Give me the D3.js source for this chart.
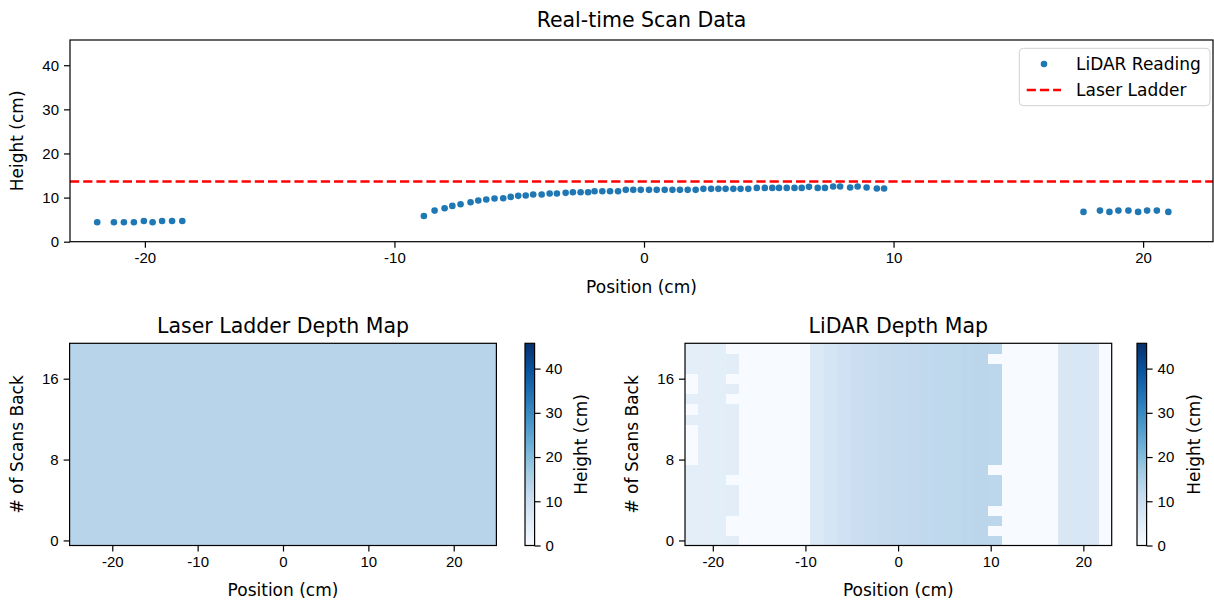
<!DOCTYPE html>
<html>
<head>
<meta charset="utf-8">
<script src="https://cdn.jsdelivr.net/npm/d3@7"></script>
<style>
  body { margin: 0; background: #fff; }
  svg { display: block; font-family: "DejaVu Sans", sans-serif; }
  text { fill: #000; }
</style>
</head>
<body>
<div id="chart"></div>
<script>
// ---- data ----
const maxHeight = 45.72;          // cm (18 in), used for y limit and colour limit
const ladderHeight = 13.64;       // red dashed line

// LiDAR reading (position cm, height cm)
const lidarX = [
  -21.91, -21.24, -20.84, -20.44, -20.04, -19.69, -19.31, -18.91, -18.50,
  -8.82, -8.39, -7.99, -7.68, -7.35, -6.95, -6.64, -6.32, -5.99, -5.64,
  -5.34, -5.04, -4.74, -4.44, -4.10, -3.78, -3.49, -3.14, -2.85, -2.54,
  -2.24, -1.98, -1.67, -1.36, -1.04, -0.73, -0.43, -0.13, 0.20, 0.51,
  0.83, 1.14, 1.44, 1.75, 2.07, 2.38, 2.69, 2.98, 3.27, 3.58,
  3.87, 4.18, 4.52, 4.84, 5.14, 5.41, 5.72, 6.03, 6.32, 6.61,
  6.96, 7.25, 7.58, 7.86, 8.26, 8.56, 8.92, 9.33, 9.62,
  17.61, 18.27, 18.65, 19.01, 19.41, 19.80, 20.16, 20.55, 21.01
];
const lidarY = [
  4.4, 4.4, 4.4, 4.4, 4.7, 4.4, 4.7, 4.7, 4.7,
  5.84, 7.05, 7.58, 8.11, 8.49, 8.95, 9.33, 9.55, 9.78, 9.86,
  10.16, 10.39, 10.46, 10.69, 10.69, 10.92, 10.92, 11.07, 11.22, 11.22,
  11.22, 11.45, 11.45, 11.45, 11.45, 11.75, 11.75, 11.75, 11.75, 11.75,
  11.75, 11.75, 11.75, 11.75, 11.75, 11.98, 11.98, 11.98, 11.98, 11.98,
  11.98, 11.98, 12.2, 12.2, 12.2, 12.2, 12.2, 12.2, 12.2, 12.43,
  12.2, 12.2, 12.51, 12.51, 12.28, 12.51, 12.28, 12.05, 12.05,
  6.75, 7.05, 6.75, 7.05, 7.05, 6.75, 7.05, 7.05, 6.75
];

// depth maps: 20 scans (row 0 = newest, at bottom)
const scanRows = [0, 1, 2, 3, 4, 5, 6, 7, 8, 9, 10, 11, 12, 13, 14, 15, 16, 17, 18, 19];

// laser ladder map: one column over [-25, 25], same height for every scan
const ladderEdges = [-25, 25];
const ladderRowValues = [13.64, 13.64, 13.64, 13.64, 13.64, 13.64, 13.64, 13.64, 13.64, 13.64,
                         13.64, 13.64, 13.64, 13.64, 13.64, 13.64, 13.64, 13.64, 13.64, 13.64];

// lidar map: column edges (cm) and column heights
const lidarEdges = [-23.0, -21.55, -20.1, -18.6, -17.12, -9.5, -8.02, -6.54, -5.07, -3.59,
                    -2.11, -0.63, 0.85, 2.32, 3.80, 5.28, 6.76, 8.24, 9.71, 11.19,
                    17.3, 18.78, 20.25, 21.73, 23.06];
const lidarColValues = [4.5, 4.6, 4.7, 4.9, 0, 6.4, 7.9, 9.3, 10.2, 10.8,
                        11.3, 11.7, 12.0, 12.2, 12.4, 12.6, 12.8, 13.0, 12.9, 0,
                        7.0, 7.2, 7.0, 0];
// cells with no reading in that scan: [column, row]
const lidarMissing = [
  [0, 16], [0, 15], [0, 13], [0, 11], [0, 10], [0, 9], [0, 8],
  [3, 19], [3, 16], [3, 14], [3, 6], [3, 2], [3, 1],
  [18, 18], [18, 7], [18, 3], [18, 1]
];

const yTicksHeight = [0, 10, 20, 30, 40];
const xTicksTop = [-20, -10, 0, 10, 20];
const yTicksScans = [0, 8, 16];

// matplotlib "Blues"
const bluesStops = ["#f7fbff", "#deebf7", "#c6dbef", "#9ecae1", "#6baed6",
                    "#4292c6", "#2171b5", "#08519c", "#08306b"];
const blues = d3.scaleLinear()
  .domain(bluesStops.map((d, i) => i / (bluesStops.length - 1)))
  .range(bluesStops)
  .interpolate(d3.interpolateRgb)
  .clamp(true);
const colour = v => blues(v / maxHeight);

// ---- layout ----
const W = 1214, H = 601;
const svg = d3.select("#chart").append("svg").attr("width", W).attr("height", H);

const tickFont = "15px", labelFont = "17px", titleFont = "20.5px";
const fmt = d => String(d);   // plain hyphen minus like the reference

function frame(x0, y0, x1, y1) {
  svg.append("rect")
    .attr("x", x0).attr("y", y0).attr("width", x1 - x0).attr("height", y1 - y0)
    .attr("fill", "none").attr("stroke", "#000").attr("stroke-width", 1.2);
}

function styleAxis(g) {
  g.select(".domain").remove();
  g.selectAll(".tick line").attr("stroke", "#000").attr("stroke-width", 1.2);
  g.selectAll(".tick text").style("font-size", tickFont).attr("fill", "#000");
}

function xAxis(x, y0, ticks) {
  svg.append("g").attr("transform", `translate(0,${y0})`)
    .call(d3.axisBottom(x).tickValues(ticks).tickSize(6).tickPadding(5).tickFormat(fmt))
    .call(styleAxis);
}

function yAxis(y, x0, ticks) {
  svg.append("g").attr("transform", `translate(${x0},0)`)
    .call(d3.axisLeft(y).tickValues(ticks).tickSize(6).tickPadding(5).tickFormat(fmt))
    .call(styleAxis);
}

function label(txt, x, y, size, rotate) {
  const t = svg.append("text").attr("text-anchor", "middle").style("font-size", size).text(txt);
  if (rotate) t.attr("transform", `translate(${x},${y}) rotate(-90)`);
  else t.attr("x", x).attr("y", y);
}

// ---- top: real-time scan ----
const scanBox = { x0: 70, x1: 1213, y0: 40, y1: 241.7 };
const xTop = d3.scaleLinear().domain([-23, 22.8]).range([scanBox.x0, scanBox.x1]);
const yTop = d3.scaleLinear().domain([0, maxHeight]).range([scanBox.y1, scanBox.y0]);

svg.append("line")
  .attr("x1", scanBox.x0).attr("x2", scanBox.x1)
  .attr("y1", yTop(ladderHeight)).attr("y2", yTop(ladderHeight))
  .attr("stroke", "#ff0000").attr("stroke-width", 2.5).attr("stroke-dasharray", "9.2,4");

svg.append("g").selectAll("circle")
  .data(d3.range(lidarX.length))
  .join("circle")
  .attr("cx", i => xTop(lidarX[i]))
  .attr("cy", i => yTop(lidarY[i]))
  .attr("r", 3.3)
  .attr("fill", "#1f77b4");

frame(scanBox.x0, scanBox.y0, scanBox.x1, scanBox.y1);
xAxis(xTop, scanBox.y1, xTicksTop);
yAxis(yTop, scanBox.x0, yTicksHeight);
label("Real-time Scan Data", (scanBox.x0 + scanBox.x1) / 2, 27, titleFont);
label("Position (cm)", (scanBox.x0 + scanBox.x1) / 2, 293, labelFont);
label("Height (cm)", 23, (scanBox.y0 + scanBox.y1) / 2, labelFont, true);

// legend
const lg = svg.append("g");
lg.append("rect").attr("x", 1019.3).attr("y", 48.3).attr("width", 190.7).attr("height", 57.4)
  .attr("rx", 4).attr("fill", "#fff").attr("fill-opacity", 0.8)
  .attr("stroke", "#d0d0d0").attr("stroke-width", 1);
lg.append("circle").attr("cx", 1044).attr("cy", 64).attr("r", 3.3).attr("fill", "#1f77b4");
lg.append("line").attr("x1", 1026.7).attr("x2", 1061).attr("y1", 90).attr("y2", 90)
  .attr("stroke", "#ff0000").attr("stroke-width", 2.5).attr("stroke-dasharray", "9.2,4");
lg.append("text").attr("x", 1076).attr("y", 70).style("font-size", labelFont).text("LiDAR Reading");
lg.append("text").attr("x", 1076).attr("y", 96).style("font-size", labelFont).text("Laser Ladder");

// ---- depth maps ----
const heatY0 = 343.3, heatY1 = 545.5;
const yScan = d3.scaleLinear().domain([-0.5, 19.5]).range([heatY1, heatY0]);
const yBar = d3.scaleLinear().domain([0, maxHeight]).range([heatY1, heatY0]);

// colour bar gradient
const defs = svg.append("defs");
const grad = defs.append("linearGradient").attr("id", "bluesGrad")
  .attr("x1", 0).attr("y1", 1).attr("x2", 0).attr("y2", 0);
grad.selectAll("stop").data(bluesStops).join("stop")
  .attr("offset", (d, i) => i / (bluesStops.length - 1))
  .attr("stop-color", d => d);

function colourBar(x0) {
  svg.append("rect").attr("x", x0).attr("y", heatY0).attr("width", 9.6)
    .attr("height", heatY1 - heatY0).attr("fill", "url(#bluesGrad)");
  frame(x0, heatY0, x0 + 9.6, heatY1);
  svg.append("g").attr("transform", `translate(${x0 + 9.6},0)`)
    .call(d3.axisRight(yBar).tickValues(yTicksHeight).tickSize(6).tickPadding(5).tickFormat(fmt))
    .call(styleAxis);
}

function depthMap(x, edges, cellValue, title, barX, labelX, barLabelX) {
  const [r0, r1] = x.range();
  const cells = [];
  scanRows.forEach(r => {
    for (let c = 0; c < edges.length - 1; c++) cells.push({ c, r, v: cellValue(c, r) });
  });
  svg.append("g").attr("shape-rendering", "crispEdges")
    .selectAll("rect").data(cells).join("rect")
    .attr("x", d => x(edges[d.c]))
    .attr("width", d => x(edges[d.c + 1]) - x(edges[d.c]) + 0.5)
    .attr("y", d => yScan(d.r + 0.5))
    .attr("height", d => yScan(d.r - 0.5) - yScan(d.r + 0.5) + 0.5)
    .attr("fill", d => colour(d.v));
  frame(r0, heatY0, r1, heatY1);
  xAxis(x, heatY1, xTicksTop);
  yAxis(yScan, r0, yTicksScans);
  label(title, (r0 + r1) / 2, 333, titleFont);
  label("Position (cm)", (r0 + r1) / 2, 596, labelFont);
  label("# of Scans Back", labelX, (heatY0 + heatY1) / 2, labelFont, true);
  colourBar(barX);
  label("Height (cm)", barLabelX, (heatY0 + heatY1) / 2, labelFont, true);
}

const xLadder = d3.scaleLinear().domain([-25, 25]).range([69.6, 496.4]);
depthMap(xLadder, ladderEdges, (c, r) => ladderRowValues[r],
  "Laser Ladder Depth Map", 525, 23, 587);

const missing = new Set(lidarMissing.map(d => d[0] + ":" + d[1]));
const xLidar = d3.scaleLinear().domain([-23, 23.06]).range([685, 1111.7]);
depthMap(xLidar, lidarEdges,
  (c, r) => missing.has(c + ":" + r) ? 0 : lidarColValues[c],
  "LiDAR Depth Map", 1137, 638, 1200);
</script>
</body>
</html>
